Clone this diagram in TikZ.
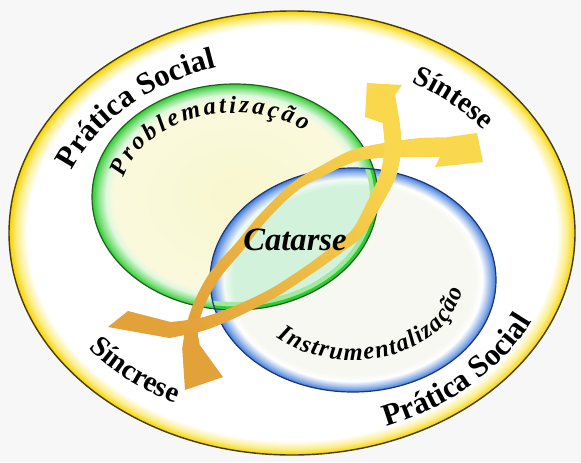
\documentclass[tikz,border=0pt]{standalone}
\usepackage{fontspec}
\setmainfont{Liberation Serif}
\usetikzlibrary{decorations.text}

\definecolor{ringgold}{HTML}{F5D300}
\definecolor{ringpale}{HTML}{FCEE8A}
\definecolor{ringline}{HTML}{4A3A08}
\definecolor{probgreen}{HTML}{2ECC2E}
\definecolor{probcream}{HTML}{F8F7CF}
\definecolor{probline}{HTML}{1F5E1F}
\definecolor{instrblue}{HTML}{3F7BDB}
\definecolor{instrwhite}{HTML}{F7F8F1}
\definecolor{instrline}{HTML}{1C3478}
\definecolor{lensmint}{HTML}{D3F2DC}
\definecolor{arrowamber}{HTML}{E3A13A}
\definecolor{arrowgold}{HTML}{F9D84E}

% rim shadings for the three ellipses (25bp = edge of the path)
\pgfdeclareradialshading{ringshade}{\pgfpoint{0bp}{0bp}}{%
  color(0bp)=(white); color(23.4bp)=(white);
  color(24.3bp)=(ringpale); color(25bp)=(ringgold); color(50bp)=(ringgold)}
\pgfdeclareradialshading{probshade}{\pgfpoint{0bp}{0bp}}{%
  color(0bp)=(probcream); color(21.3bp)=(probcream!70!white);
  color(22.6bp)=(white!85!probgreen); color(24bp)=(probgreen!60!white);
  color(25bp)=(probgreen); color(50bp)=(probgreen)}
\pgfdeclareradialshading{instrshade}{\pgfpoint{0bp}{0bp}}{%
  color(0bp)=(instrwhite); color(21.3bp)=(instrwhite);
  color(22.6bp)=(white); color(24bp)=(instrblue!55!white);
  color(25bp)=(instrblue); color(50bp)=(instrblue)}
\pgfdeclareradialshading{lensshade}{\pgfpoint{0bp}{0bp}}{%
  color(0bp)=(lensmint); color(21bp)=(lensmint);
  color(22.6bp)=(white!70!lensmint); color(24bp)=(instrblue!55!white);
  color(25bp)=(instrblue); color(50bp)=(instrblue)}

\newcommand\ringfont{\fontsize{15.5}{18}\selectfont\bfseries}
\newcommand\stagefont{\fontsize{14.5}{17}\selectfont\bfseries}
\newcommand\lensfont{\fontsize{12.3}{14}\selectfont\bfseries\itshape}
\newcommand\catfont{\fontsize{16.3}{19}\selectfont\bfseries\itshape}

\begin{document}
\begin{tikzpicture}[x=0.5pt,y=0.5pt,
    ringtext/.style={decorate,decoration={text along path,text align=center}},
    lenstext/.style={decorate,decoration={text along path,text align={fit to path}}},
    band/.style={top color=arrowgold,bottom color=arrowamber,shading angle=-45}]

    \fill[black!3] (0,0) rectangle (581,462);
    \useasboundingbox (0,0) rectangle (581,462);

    \coordinate (ring) at (292,229);
    \coordinate (prob) at (235,265);
    \coordinate (instr) at (353,182);

    % outer frame
    \shade[shading=ringshade] (ring) ellipse[x radius=283,y radius=222];
    \draw[ringline,line width=0.7pt] (ring) ellipse[x radius=283,y radius=222];

    % the two stages and their overlap
    \shade[shading=probshade] (prob) ellipse[x radius=143,y radius=113];
    \shade[shading=instrshade] (instr) ellipse[x radius=143,y radius=112];
    \begin{scope}
        \clip (prob) ellipse[x radius=143,y radius=113];
        \shade[shading=lensshade] (instr) ellipse[x radius=143,y radius=112];
        \clip (instr) ellipse[x radius=143,y radius=112];
        \draw[probgreen!45!white,line width=8pt] (prob) ellipse[x radius=143,y radius=113];
        \draw[probgreen,line width=3.5pt] (prob) ellipse[x radius=143,y radius=113];
    \end{scope}
    \draw[probline,line width=0.6pt] (prob) ellipse[x radius=143,y radius=113];
    \draw[instrline,line width=0.6pt] (instr) ellipse[x radius=143,y radius=112];

    % band from the lower tail to the right-hand head
    \shade[band] (185,72)
        -- plot[smooth,tension=0.5] coordinates {(182.2,113.1) (186.1,136.2) (195,162.2)
            (210.5,190.2) (236.2,219.2) (256.6,244) (278.9,267.3) (297.3,282.9)
            (317.7,294.5) (351.1,311.7) (386,319.4) (420,324) (445,324.5)}
        -- (477,329) -- (483,300) -- (435,295) -- (440,305)
        -- plot[smooth,tension=0.5] coordinates {(420,305) (388,304.6) (354.9,300.3)
            (322.3,285.5) (302.7,275.1) (285.1,260.7) (263.4,238) (243.8,212.8)
            (219.5,183.8) (205,157.8) (197.9,133.8) (199.8,116.9)}
        -- (223,85) -- cycle;

    % band from the left tail to the upper head
    \shade[band] (108,135) -- (128,151)
        -- plot[smooth,tension=0.5] coordinates {(170.6,140) (201.2,144.3) (234.8,156)
            (272.5,174.3) (310.2,199.1) (336.6,219.3) (353.3,233.7) (368.8,263.3)
            (380.4,289.5) (384.5,315.5) (382.5,339)}
        -- (365,345) -- (367,379) -- (402,377) -- (395,367)
        -- plot[smooth,tension=0.5] coordinates {(399.5,341) (401.5,314.5) (395.6,284.5)
            (381.2,256.7) (362.7,226.3) (343.4,210.7) (315.8,190.9) (277.5,165.7)
            (239.2,146) (204.8,131.7) (169.4,124)}
        -- cycle;

    \node (catarse) at (295,222) {\catfont Catarse};

    % labels along the frame
    \path[shift={(ring)},ringtext,decoration={text={|\ringfont|Prática Social}}]
        (177:236 and 175) arc[start angle=177,end angle=95,x radius=236,y radius=175];
    \path[shift={(ring)},ringtext,decoration={text={|\stagefont|Síntese}}]
        (68:236 and 175) arc[start angle=68,end angle=26,x radius=236,y radius=175];
    \path[shift={(ring)},ringtext,decoration={text={|\stagefont|Síncrese}}]
        (204:256 and 191) arc[start angle=204,end angle=254,x radius=256,y radius=191];
    \path[shift={(ring)},ringtext,decoration={text={|\ringfont|Prática Social}}]
        (-91:265 and 207) arc[start angle=-91,end angle=2,x radius=265,y radius=207];

    % labels along the stages
    \path[shift={(prob)},lenstext,decoration={text={|\lensfont|Problematização}}]
        (167:114 and 84) arc[start angle=167,end angle=52,x radius=114,y radius=84];
    \path[shift={(instr)},lenstext,decoration={text={|\lensfont|Instrumentalização}}]
        (226:110 and 80) arc[start angle=226,end angle=353,x radius=110,y radius=80];
\end{tikzpicture}
\end{document}
